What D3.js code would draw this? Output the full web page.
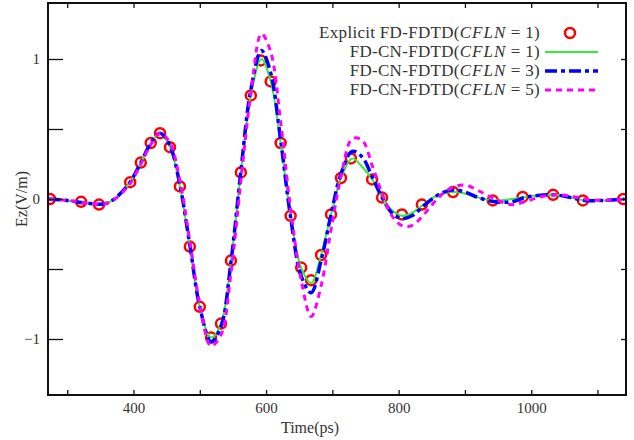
<!DOCTYPE html>
<html>
<head>
<meta charset="utf-8">
<script src="https://cdn.jsdelivr.net/npm/d3@7"></script>
<style>
  body { margin: 0; background: #fff; }
  text { font-family: "Liberation Serif", "DejaVu Serif", serif; fill: #333; }
</style>
</head>
<body>
<script>
const width = 634;
const height = 440;
const margin = { top: 3, right: 8, bottom: 45, left: 48 };

// explicit FD-FDTD samples (circles)
const explicitTime = [274, 321, 348, 395, 411, 426, 440, 455, 470, 485, 500, 517, 532, 547, 562, 577, 592, 607, 622, 637, 653, 668, 683, 698, 713, 728, 760, 775, 805, 835, 882, 942, 987, 1033, 1078, 1139];
const explicitEz = [0.0, -0.02, -0.04, 0.12, 0.26, 0.40, 0.47, 0.37, 0.09, -0.34, -0.77, -0.99, -0.89, -0.44, 0.19, 0.74, 0.99, 0.84, 0.40, -0.12, -0.49, -0.58, -0.40, -0.11, 0.15, 0.29, 0.14, 0.01, -0.11, -0.04, 0.05, -0.01, 0.015, 0.03, -0.01, 0.0];

// FD-CN-FDTD curves
const lineTime = [272, 300, 330, 360, 390, 410, 425, 440, 455, 470, 485, 500, 517, 532, 547, 562, 577, 593, 607, 622, 637, 653, 668, 683, 698, 713, 730, 745, 760, 775, 790, 805, 820, 840, 860, 880, 900, 920, 945, 970, 990, 1010, 1035, 1060, 1080, 1110, 1141];
const cfl1 = [0.0, -0.01, -0.03, -0.03, 0.09, 0.25, 0.39, 0.47, 0.37, 0.09, -0.34, -0.77, -0.99, -0.89, -0.44, 0.19, 0.74, 1.0, 0.84, 0.40, -0.12, -0.49, -0.60, -0.40, -0.11, 0.15, 0.29, 0.23, 0.14, 0.01, -0.08, -0.12, -0.10, -0.03, 0.03, 0.05, 0.04, 0.01, -0.01, 0.0, 0.015, 0.025, 0.03, 0.01, -0.01, -0.01, 0.0];
const cfl3 = [0.0, -0.01, -0.03, -0.03, 0.09, 0.25, 0.39, 0.47, 0.38, 0.10, -0.33, -0.77, -1.02, -0.91, -0.45, 0.20, 0.78, 1.06, 0.90, 0.42, -0.13, -0.55, -0.67, -0.44, -0.11, 0.18, 0.34, 0.30, 0.16, 0.01, -0.10, -0.14, -0.12, -0.04, 0.03, 0.065, 0.05, 0.01, -0.02, -0.02, 0.01, 0.025, 0.03, 0.01, -0.01, -0.01, 0.0];
const cfl5 = [0.0, -0.01, -0.03, -0.03, 0.08, 0.24, 0.38, 0.47, 0.40, 0.13, -0.30, -0.75, -1.05, -0.97, -0.53, 0.13, 0.75, 1.18, 1.05, 0.55, -0.07, -0.58, -0.84, -0.62, -0.22, 0.16, 0.43, 0.42, 0.24, 0.04, -0.12, -0.19, -0.19, -0.10, 0.01, 0.08, 0.10, 0.06, 0.0, -0.04, -0.02, 0.01, 0.03, 0.02, 0.0, -0.01, 0.0];

const xTicks = [300, 400, 500, 600, 700, 800, 900, 1000, 1100];
const xLabels = [400, 600, 800, 1000];
const yTicks = [-1, -0.5, 0, 0.5, 1];
const yLabels = [-1, 0, 1];

const svg = d3.select("body").append("svg")
  .attr("width", width)
  .attr("height", height);

const x = d3.scaleLinear().domain([271, 1143]).range([margin.left, width - margin.right]);
const y = d3.scaleLinear().domain([-1.4, 1.4]).range([height - margin.bottom, margin.top]);

svg.append("clipPath").attr("id", "plot-clip")
  .append("rect")
  .attr("x", margin.left).attr("y", margin.top)
  .attr("width", x.range()[1] - x.range()[0])
  .attr("height", y.range()[0] - y.range()[1]);

const plot = svg.append("g").attr("clip-path", "url(#plot-clip)");

// circles first, then the lines on top
plot.selectAll("circle.expl")
  .data(explicitTime)
  .join("circle")
  .attr("class", "expl")
  .attr("cx", (d) => x(d))
  .attr("cy", (d, i) => y(explicitEz[i]))
  .attr("r", 5)
  .attr("fill", "none")
  .attr("stroke", "#ff0000")
  .attr("stroke-width", 2.5);

const line = d3.line()
  .x((d) => x(d[0]))
  .y((d) => y(d[1]))
  .curve(d3.curveCatmullRom);

const series = [
  { vals: cfl1, color: "#33ee33", w: 2, dash: null },
  { vals: cfl3, color: "#0000ff", w: 3.5, dash: "12,4,4,4" },
  { vals: cfl5, color: "#ff00ff", w: 3, dash: "6,5" },
];

series.forEach((s) => {
  plot.append("path")
    .datum(lineTime.map((t, i) => [t, s.vals[i]]))
    .attr("d", line)
    .attr("fill", "none")
    .attr("stroke", s.color)
    .attr("stroke-width", s.w)
    .attr("stroke-dasharray", s.dash);
});

// axes, ticks pointing inward
const fmtX = (d) => (xLabels.includes(d) ? d : "");
const fmtY = (d) => (yLabels.includes(d) ? d3.format("d")(d) : "");

const axBottom = svg.append("g")
  .attr("transform", "translate(0," + y.range()[0] + ")")
  .call(d3.axisBottom(x).tickValues(xTicks).tickSize(-5).tickPadding(7).tickFormat(fmtX));
const axTop = svg.append("g")
  .attr("transform", "translate(0," + margin.top + ")")
  .call(d3.axisTop(x).tickValues(xTicks).tickSize(-5).tickFormat(""));
const axLeft = svg.append("g")
  .attr("transform", "translate(" + margin.left + ",0)")
  .call(d3.axisLeft(y).tickValues(yTicks).tickSize(-15).tickPadding(8).tickFormat(fmtY));
const axRight = svg.append("g")
  .attr("transform", "translate(" + x.range()[1] + ",0)")
  .call(d3.axisRight(y).tickValues(yTicks).tickSize(-5).tickFormat(""));

[axBottom, axTop, axLeft, axRight].forEach((g) => {
  g.select(".domain").remove();
  g.selectAll(".tick line").attr("stroke", "#111").attr("stroke-width", 1.3);
  g.selectAll(".tick text").attr("font-size", 15).attr("fill", "#333")
    .attr("font-family", "Liberation Serif, DejaVu Serif, serif");
});

svg.append("rect")
  .attr("x", x.range()[0]).attr("y", y.range()[1])
  .attr("width", x.range()[1] - x.range()[0])
  .attr("height", y.range()[0] - y.range()[1])
  .attr("fill", "none")
  .attr("stroke", "#111")
  .attr("stroke-width", 2);

// axis titles
svg.append("text")
  .attr("x", 310).attr("y", 433)
  .attr("text-anchor", "middle")
  .attr("font-size", 16)
  .text("Time(ps)");

svg.append("text")
  .attr("transform", "translate(27,199) rotate(-90)")
  .attr("text-anchor", "middle")
  .attr("font-size", 16)
  .text("Ez(V/m)");

// legend
const legendRows = [
  { pre: "Explicit FD-FDTD(", n: "1" },
  { pre: "FD-CN-FDTD(", n: "1" },
  { pre: "FD-CN-FDTD(", n: "3" },
  { pre: "FD-CN-FDTD(", n: "5" },
];
const legend = svg.append("g");
legendRows.forEach((r, i) => {
  const ly = 33 + i * 19;
  const t = legend.append("text")
    .attr("x", 540).attr("y", ly + 5)
    .attr("text-anchor", "end")
    .attr("font-size", 17)
    .attr("letter-spacing", 0.3);
  t.append("tspan").text(r.pre);
  t.append("tspan").attr("font-style", "italic").attr("letter-spacing", 1).text("CFLN");
  t.append("tspan").text("\u2005=\u2005" + r.n + ")");
  if (i === 0) {
    legend.append("circle")
      .attr("cx", 570).attr("cy", ly)
      .attr("r", 5)
      .attr("fill", "none")
      .attr("stroke", "#ff0000")
      .attr("stroke-width", 2.5);
  } else {
    const s = series[i - 1];
    legend.append("line")
      .attr("x1", 545).attr("x2", 598)
      .attr("y1", ly).attr("y2", ly)
      .attr("stroke", s.color)
      .attr("stroke-width", s.w)
      .attr("stroke-dasharray", s.dash);
  }
});
</script>
</body>
</html>
